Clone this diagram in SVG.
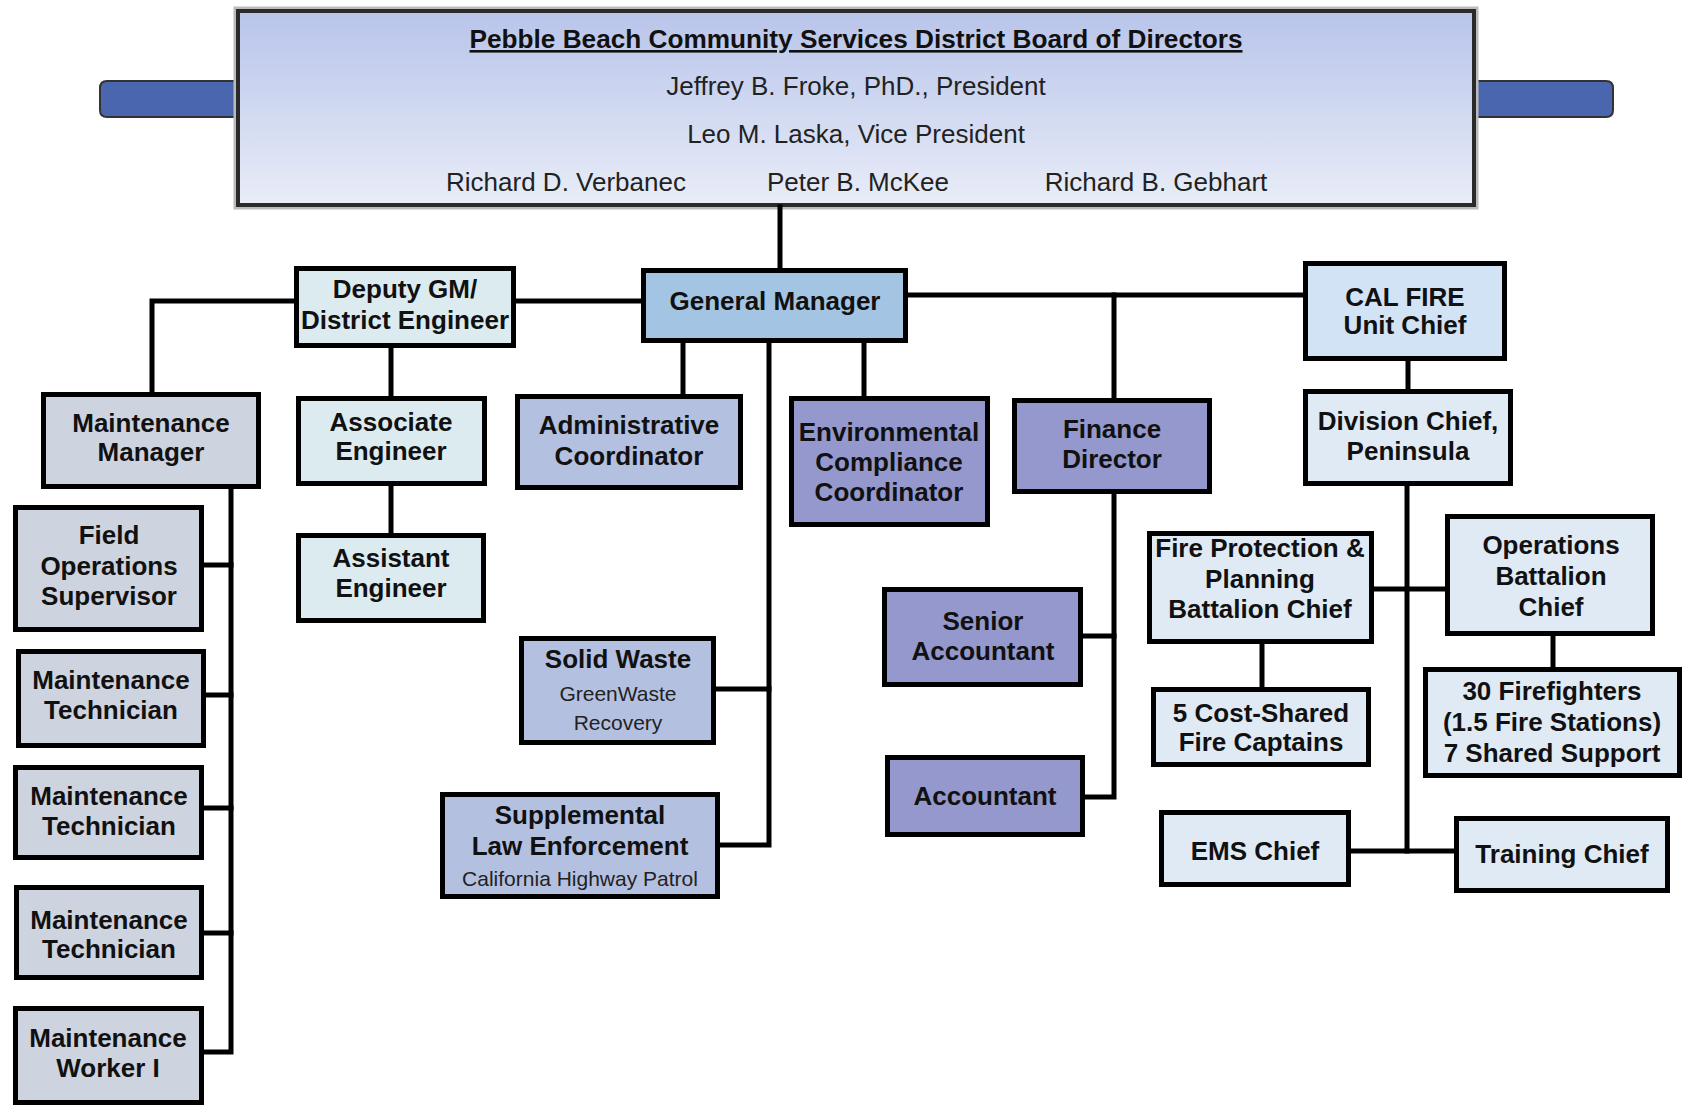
<svg xmlns="http://www.w3.org/2000/svg" width="1685" height="1106" viewBox="0 0 1685 1106">
<defs>
<linearGradient id="boardGrad" x1="0" y1="0" x2="0" y2="1">
<stop offset="0" stop-color="#b8c4ea"/>
<stop offset="1" stop-color="#e9edf8"/>
</linearGradient>
<style>
.box{stroke:#000;stroke-width:5}
.c1{fill:#a3c4e2}
.c2{fill:#dcebf0}
.c3{fill:#cdd3df}
.c4{fill:#b4c0e0}
.c5{fill:#9498cc}
.c6{fill:#d2e3f5}
.c7{fill:#e0eaf5}
.t{font-family:"Liberation Sans",Arial,sans-serif;font-weight:bold;font-size:26px;text-anchor:middle;fill:#111}
.s{font-family:"Liberation Sans",Arial,sans-serif;font-weight:normal;font-size:21px;text-anchor:middle;fill:#222}
.n{font-family:"Liberation Sans",Arial,sans-serif;font-weight:normal;font-size:26px;text-anchor:middle;fill:#222}
.ln{stroke:#000;stroke-width:5;fill:none;stroke-linecap:square}
.tab{fill:#4a66ae;stroke:#333;stroke-width:2}
</style>
</defs>
<rect width="1685" height="1106" fill="#fff"/>

<g id="board">
<path class="tab" d="M240 81 H107 Q100 81 100 88 V110 Q100 117 107 117 H240 Z"/>
<path class="tab" d="M1472 81 H1606 Q1613 81 1613 88 V110 Q1613 117 1606 117 H1472 Z"/>
<rect x="237" y="10" width="1238" height="196" fill="none" stroke="#bbb" stroke-width="7"/>
<rect x="238" y="11" width="1236" height="194" fill="url(#boardGrad)" stroke="#2a2a2a" stroke-width="4"/>
<text class="t" x="856" y="48" text-decoration="underline" textLength="773" lengthAdjust="spacingAndGlyphs">Pebble Beach Community Services District Board of Directors</text>
<text class="n" x="856" y="95">Jeffrey B. Froke, PhD., President</text>
<text class="n" x="856" y="143">Leo M. Laska, Vice President</text>
<text class="n" x="566" y="191">Richard D. Verbanec</text>
<text class="n" x="858" y="191">Peter B. McKee</text>
<text class="n" x="1156" y="191">Richard B. Gebhart</text>
</g>

<g id="connectors">
<path class="ln" d="M780 207 V268"/>
<path class="ln" d="M516 301 H641"/>
<path class="ln" d="M294 301 H152 V392"/>
<path class="ln" d="M391 348 V396"/>
<path class="ln" d="M391 486 V533"/>
<path class="ln" d="M908 295 H1303"/>
<path class="ln" d="M1114 295 V398"/>
<path class="ln" d="M1408 361 V389"/>
<path class="ln" d="M683 343 V394"/>
<path class="ln" d="M864 343 V396"/>
<path class="ln" d="M769 343 V845 H720"/>
<path class="ln" d="M716 689 H769"/>
<path class="ln" d="M1114 494 V797 H1085"/>
<path class="ln" d="M1083 636 H1114"/>
<path class="ln" d="M231 489 V1052 H204"/>
<path class="ln" d="M204 565 H231"/>
<path class="ln" d="M206 695 H231"/>
<path class="ln" d="M204 808 H231"/>
<path class="ln" d="M204 933 H231"/>
<path class="ln" d="M1407 486 V851 H1351"/>
<path class="ln" d="M1407 851 H1454"/>
<path class="ln" d="M1374 589 H1445"/>
<path class="ln" d="M1262 644 V687"/>
<path class="ln" d="M1553 636 V667"/>
</g>

<g id="general-manager">
<rect class="box c1" x="643.5" y="270.5" width="262" height="70"/>
<text class="t" x="775" y="310" font-size="25">General Manager</text>
</g>
<g id="deputy-gm">
<rect class="box c2" x="296.5" y="268.5" width="217" height="77"/>
<text class="t" x="405" y="298">Deputy GM/</text>
<text class="t" x="405" y="329">District Engineer</text>
</g>
<g id="cal-fire">
<rect class="box c6" x="1305.5" y="263.5" width="199" height="95"/>
<text class="t" x="1405" y="306">CAL FIRE</text>
<text class="t" x="1405" y="334">Unit Chief</text>
</g>
<g id="division-chief">
<rect class="box c7" x="1305.5" y="391.5" width="205" height="92"/>
<text class="t" x="1408" y="430">Division Chief,</text>
<text class="t" x="1408" y="460">Peninsula</text>
</g>
<g id="fire-protection">
<rect class="box c7" x="1149.5" y="533.5" width="222" height="108"/>
<text class="t" x="1260" y="557">Fire Protection &amp;</text>
<text class="t" x="1260" y="588">Planning</text>
<text class="t" x="1260" y="618">Battalion Chief</text>
</g>
<g id="operations-battalion">
<rect class="box c7" x="1447.5" y="516.5" width="205" height="117"/>
<text class="t" x="1551" y="554">Operations</text>
<text class="t" x="1551" y="585">Battalion</text>
<text class="t" x="1551" y="616">Chief</text>
</g>
<g id="fire-captains">
<rect class="box c7" x="1153.5" y="689.5" width="215" height="75"/>
<text class="t" x="1261" y="722">5 Cost-Shared</text>
<text class="t" x="1261" y="751">Fire Captains</text>
</g>
<g id="firefighters">
<rect class="box c7" x="1425.5" y="669.5" width="254" height="106"/>
<text class="t" x="1552" y="700">30 Firefighters</text>
<text class="t" x="1552" y="731">(1.5 Fire Stations)</text>
<text class="t" x="1552" y="762">7 Shared Support</text>
</g>
<g id="ems-chief">
<rect class="box c7" x="1161.5" y="812.5" width="187" height="72"/>
<text class="t" x="1255" y="860">EMS Chief</text>
</g>
<g id="training-chief">
<rect class="box c7" x="1456.5" y="818.5" width="211" height="72"/>
<text class="t" x="1562" y="863">Training Chief</text>
</g>
<g id="finance-director">
<rect class="box c5" x="1014.5" y="400.5" width="195" height="91"/>
<text class="t" x="1112" y="438">Finance</text>
<text class="t" x="1112" y="468">Director</text>
</g>
<g id="senior-accountant">
<rect class="box c5" x="884.5" y="589.5" width="196" height="95"/>
<text class="t" x="983" y="630">Senior</text>
<text class="t" x="983" y="660">Accountant</text>
</g>
<g id="accountant">
<rect class="box c5" x="887.5" y="757.5" width="195" height="77"/>
<text class="t" x="985" y="805">Accountant</text>
</g>
<g id="environmental">
<rect class="box c5" x="791.5" y="398.5" width="196" height="126"/>
<text class="t" x="889" y="441">Environmental</text>
<text class="t" x="889" y="471">Compliance</text>
<text class="t" x="889" y="501">Coordinator</text>
</g>
<g id="administrative">
<rect class="box c4" x="517.5" y="396.5" width="223" height="91"/>
<text class="t" x="629" y="434">Administrative</text>
<text class="t" x="629" y="465">Coordinator</text>
</g>
<g id="solid-waste">
<rect class="box c4" x="521.5" y="638.5" width="192" height="104"/>
<text class="t" x="618" y="668">Solid Waste</text>
<text class="s" x="618" y="701">GreenWaste</text>
<text class="s" x="618" y="730">Recovery</text>
</g>
<g id="supplemental">
<rect class="box c4" x="442.5" y="794.5" width="275" height="102"/>
<text class="t" x="580" y="824">Supplemental</text>
<text class="t" x="580" y="855">Law Enforcement</text>
<text class="s" x="580" y="886" font-size="20.5">California Highway Patrol</text>
</g>
<g id="associate-engineer">
<rect class="box c2" x="298.5" y="398.5" width="186" height="85"/>
<text class="t" x="391" y="431">Associate</text>
<text class="t" x="391" y="460">Engineer</text>
</g>
<g id="assistant-engineer">
<rect class="box c2" x="298.5" y="535.5" width="185" height="85"/>
<text class="t" x="391" y="567">Assistant</text>
<text class="t" x="391" y="597">Engineer</text>
</g>
<g id="maintenance-manager">
<rect class="box c3" x="43.5" y="394.5" width="215" height="92"/>
<text class="t" x="151" y="432">Maintenance</text>
<text class="t" x="151" y="461">Manager</text>
</g>
<g id="field-operations">
<rect class="box c3" x="15.5" y="507.5" width="186" height="122"/>
<text class="t" x="109" y="544">Field</text>
<text class="t" x="109" y="575">Operations</text>
<text class="t" x="109" y="605">Supervisor</text>
</g>
<g id="maint-tech-1">
<rect class="box c3" x="18.5" y="651.5" width="185" height="94"/>
<text class="t" x="111" y="689">Maintenance</text>
<text class="t" x="111" y="719">Technician</text>
</g>
<g id="maint-tech-2">
<rect class="box c3" x="15.5" y="767.5" width="186" height="90"/>
<text class="t" x="109" y="805">Maintenance</text>
<text class="t" x="109" y="835">Technician</text>
</g>
<g id="maint-tech-3">
<rect class="box c3" x="16.5" y="887.5" width="185" height="90"/>
<text class="t" x="109" y="929">Maintenance</text>
<text class="t" x="109" y="958">Technician</text>
</g>
<g id="maint-worker">
<rect class="box c3" x="15.5" y="1008.5" width="186" height="94"/>
<text class="t" x="108" y="1047">Maintenance</text>
<text class="t" x="108" y="1077">Worker I</text>
</g>
</svg>
